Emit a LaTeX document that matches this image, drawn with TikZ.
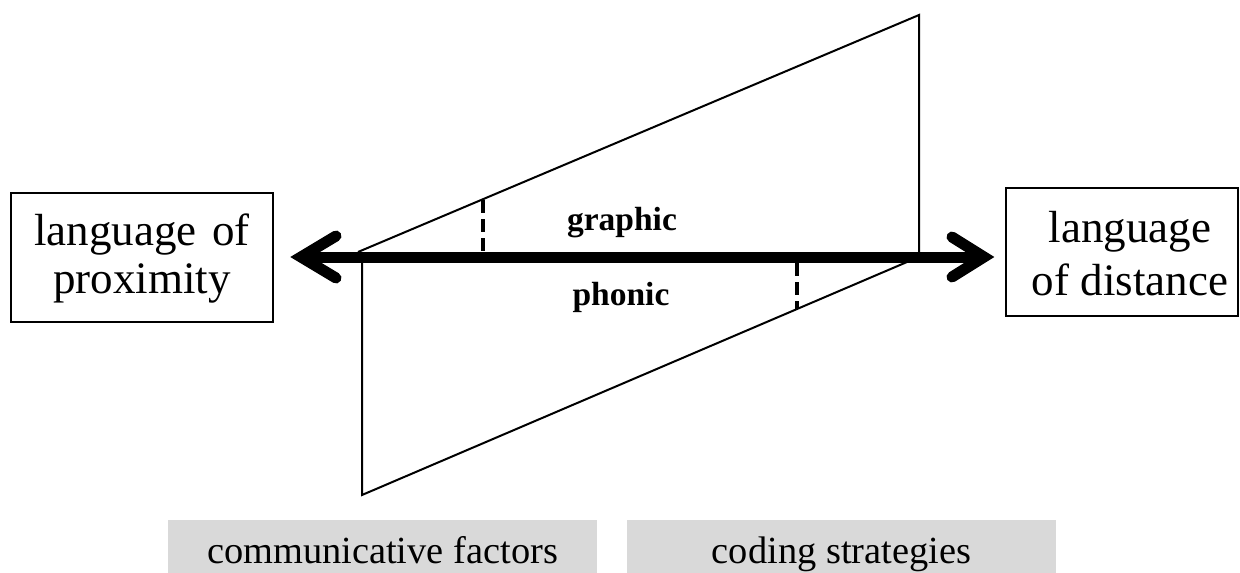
\documentclass[tikz,border=0pt]{standalone}
\usepackage{fontspec}
\setmainfont{Liberation Serif}
\usetikzlibrary{calc}
\definecolor{labelgray}{HTML}{D9D9D9}
\tikzset{
  framebox/.style={draw=black, line width=2pt, inner sep=0pt, fill=white},
  graybox/.style={fill=labelgray, draw=none, inner sep=0pt, minimum width=429pt, minimum height=53pt},
  boxtext/.style={anchor=base, inner sep=0pt, font=\fontsize{45}{50}\selectfont},
  labeltext/.style={anchor=base, inner sep=0pt, font=\fontsize{38.4}{44}\selectfont},
  modetext/.style={anchor=base, inner sep=0pt, font=\fontsize{33.5}{38}\selectfont\bfseries},
  wedge/.style={draw=black, line width=2pt, line join=miter},
  dashline/.style={draw=black, line width=4pt, dash pattern=on 13pt off 6pt},
  mainline/.style={draw=black, line width=11pt},
  barb/.style={draw=black, line width=11pt, line cap=round, line join=miter, miter limit=10},
}
\begin{document}
\begin{tikzpicture}[x=1pt,y=-1pt]
\useasboundingbox (0,0) rectangle (1240,573);

% boxes
\node[framebox, minimum width=262pt, minimum height=129pt] (left) at (142,257.5) {};
\node[framebox, minimum width=232pt, minimum height=128pt] (right) at (1122,252) {};
\node[boxtext] (l1) at (142,245) {language\hspace{0.35em}of};
\node[boxtext] (l2) at (142,293) {proximity};
\node[boxtext] (r1) at (1130,242) {language};
\node[boxtext] (r2) at (1130,295) {of distance};

% wedges
\coordinate (uA) at (358,252);
\coordinate (uB) at (919,15);
\coordinate (uC) at (919,257);
\draw[wedge] (uA) -- (uB) -- (uC);
\coordinate (dA) at (907,262);
\coordinate (dB) at (362,495);
\coordinate (dC) at (362,257);
\draw[wedge] (dA) -- (dB) -- (dC);

% dashed separators
\coordinate (ud1) at (483,200);
\coordinate (ud2) at (483,252);
\draw[dashline] (ud1) -- (ud2);
\coordinate (dd1) at (797,263);
\coordinate (dd2) at (797,309);
\draw[dashline] (dd1) -- (dd2);

% main double arrow
\coordinate (Ltip) at (301,257);
\coordinate (Rtip) at (984,257);
\draw[mainline] (Ltip) -- (Rtip);
\draw[barb] ($(Ltip)+(35,-21)$) -- (Ltip) -- ($(Ltip)+(35,21)$);
\draw[barb] ($(Rtip)+(-32,-20)$) -- (Rtip) -- ($(Rtip)+(-32,20)$);

% mode labels
\node[modetext] (graphic) at (622,230) {graphic};
\node[modetext] (phonic) at (621,305) {phonic};

% bottom labels
\node[graybox, anchor=north west] (g1) at (168,520) {};
\node[graybox, anchor=north west] (g2) at (627,520) {};
\node[labeltext] (t1) at (382.5,563) {communicative factors};
\node[labeltext] (t2) at (841.5,563) {coding strategies};
\end{tikzpicture}
\end{document}
